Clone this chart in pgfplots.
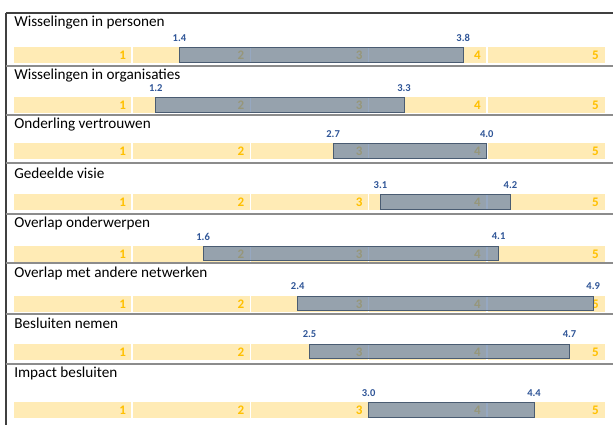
\documentclass[border=0pt]{standalone}
\usepackage{pgfplots}
\pgfplotsset{compat=1.18}
\usepackage{pgfplotstable}
\usepackage{fontspec}
\setmainfont{Carlito}
\definecolor{bandc}{HTML}{FFEBB5}
\definecolor{numc}{HTML}{FFC000}
\definecolor{barc}{HTML}{6E87AA}
\definecolor{barline}{HTML}{4A5C72}
\definecolor{lab}{HTML}{2F5597}
\definecolor{sep}{HTML}{8C8C8C}

% yc = vertical centre of band (px from top), lo / hi = range
\pgfplotstableread{
yc    lo   hi
55    1.4  3.8
105   1.2  3.3
151   2.7  4.0
202   3.1  4.2
253.5 1.6  4.1
303.5 2.4  4.9
351.5 2.5  4.7
410   3.0  4.4
}\ranges

\newcommand{\numnode}[2]{%
  \node[anchor=east,text=numc,font=\bfseries\fontsize{9.8}{10}\selectfont,inner sep=0pt] at (axis cs:#1-0.05,#2+0.5) {#1};}
\newcommand{\panel}[5]{%
  \node[anchor=west,font=\fontsize{11.4}{12}\selectfont,inner sep=0pt] at (axis cs:0,#2) {#1};
  \fill[bandc] (axis cs:0,#3-8) rectangle (axis cs:5,#3+8);
  \draw[white,line width=1.2pt] (axis cs:1,#3-8) -- (axis cs:1,#3+8)
     (axis cs:2,#3-8) -- (axis cs:2,#3+8)
     (axis cs:3,#3-8) -- (axis cs:3,#3+8)
     (axis cs:4,#3-8) -- (axis cs:4,#3+8);
  \numnode{1}{#3}\numnode{2}{#3}\numnode{3}{#3}\numnode{4}{#3}\numnode{5}{#3}
  \node[text=lab,font=\bfseries\fontsize{7.9}{8}\selectfont,inner sep=0pt] at (axis cs:#4,#3-17) {#4};
  \node[text=lab,font=\bfseries\fontsize{7.9}{8}\selectfont,inner sep=0pt] at (axis cs:#5,#3-17) {#5};
}

\begin{document}
\begin{tikzpicture}
\begin{axis}[
  width=459.75pt, height=318.75pt, scale only axis,
  xmin=-0.11844, xmax=5.0677, ymin=0, ymax=425, y dir=reverse,
  hide axis, clip=false,
  xbar stacked, reverse stacked plots=false, bar width=14.5,
]
\draw[black!75,line width=0.9pt] (axis cs:-0.0677,13) -- (axis cs:5.0677,13);
\draw[black!75,line width=0.9pt] (axis cs:-0.0677,13) -- (axis cs:-0.0677,425);
\draw[sep,line width=0.9pt] (axis cs:-0.0677,66) -- (axis cs:5.0677,66)
  (axis cs:-0.0677,115) -- (axis cs:5.0677,115)
  (axis cs:-0.0677,163) -- (axis cs:5.0677,163)
  (axis cs:-0.0677,214) -- (axis cs:5.0677,214)
  (axis cs:-0.0677,263) -- (axis cs:5.0677,263)
  (axis cs:-0.0677,314) -- (axis cs:5.0677,314)
  (axis cs:-0.0677,364) -- (axis cs:5.0677,364);

\panel{Wisselingen in personen}{23}{55}{1.4}{3.8}
\panel{Wisselingen in organisaties}{76}{105}{1.2}{3.3}
\panel{Onderling vertrouwen}{125}{151}{2.7}{4.0}
\panel{Gedeelde visie}{173}{202}{3.1}{4.2}
\panel{Overlap onderwerpen}{223}{253.5}{1.6}{4.1}
\panel{Overlap met andere netwerken}{273}{303.5}{2.4}{4.9}
\panel{Besluiten nemen}{323}{351.5}{2.5}{4.7}
\panel{Impact besluiten}{373}{410}{3.0}{4.4}

\addplot[draw=none,fill=none] table[x=lo,y=yc] {\ranges};
\addplot[draw=barline,line width=0.7pt,fill=barc,fill opacity=0.72] table[x expr=\thisrow{hi}-\thisrow{lo},y=yc] {\ranges};
\end{axis}
\pgfresetboundingbox
\path (current axis.south west) rectangle (current axis.north east);
\end{tikzpicture}
\end{document}
